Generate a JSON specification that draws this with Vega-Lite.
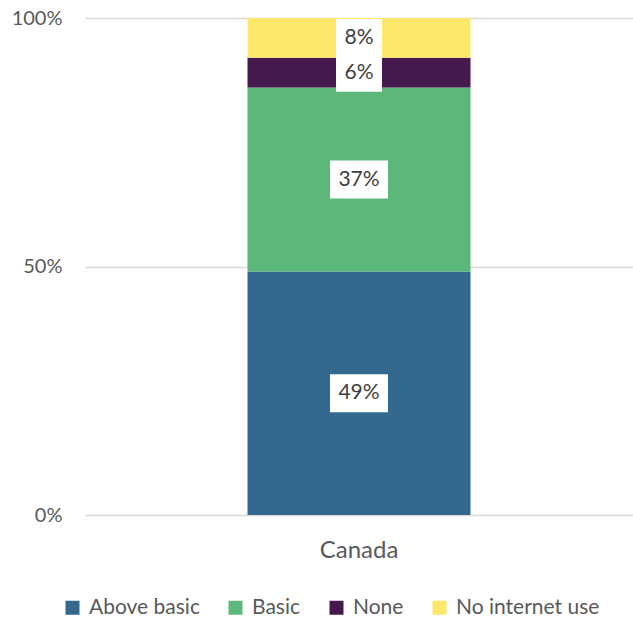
{
  "$schema": "https://vega.github.io/schema/vega-lite/v6.json",
  "width": 548,
  "height": 497,
  "autosize": {"type": "none"},
  "padding": {"left": 85, "top": 18, "right": 0, "bottom": 104},
  "background": "white",
  "config": {
    "view": {"stroke": null},
    "font": "Lato"
  },
  "data": {
    "values": [
      {"country": "Canada", "category": "Above basic", "value": 49, "rank": 1},
      {"country": "Canada", "category": "Basic", "value": 37, "rank": 2},
      {"country": "Canada", "category": "None", "value": 6, "rank": 3},
      {"country": "Canada", "category": "No internet use", "value": 8, "rank": 4}
    ]
  },
  "transform": [
    {"stack": "value", "groupby": ["country"], "sort": [{"field": "rank", "order": "ascending"}], "as": ["y0", "y1"]},
    {"calculate": "(datum.y0 + datum.y1) / 2", "as": "mid"},
    {"calculate": "datum.value + '%'", "as": "label"}
  ],
  "encoding": {
    "x": {
      "field": "country",
      "type": "nominal",
      "axis": {
        "title": null,
        "labelAngle": 0,
        "labelFontSize": 24,
        "labelColor": "#595959",
        "labelPadding": 23,
        "domain": false,
        "ticks": false
      }
    }
  },
  "layer": [
    {
      "mark": {"type": "bar", "width": 223},
      "encoding": {
        "y": {
          "field": "y0",
          "type": "quantitative",
          "scale": {"domain": [0, 100]},
          "axis": {
            "title": null,
            "values": [0, 50, 100],
            "labelExpr": "datum.value + '%'",
            "labelFontSize": 20,
            "labelColor": "#595959",
            "labelPadding": 23,
            "domain": false,
            "ticks": false,
            "gridColor": "#d9d9d9",
            "gridWidth": 1.5
          }
        },
        "y2": {"field": "y1"},
        "color": {
          "field": "category",
          "type": "nominal",
          "sort": ["Above basic", "Basic", "None", "No internet use"],
          "scale": {
            "domain": ["Above basic", "Basic", "None", "No internet use"],
            "range": ["#33698e", "#5cb87a", "#46194f", "#fde76b"]
          },
          "legend": {
            "title": null,
            "orient": "none",
            "direction": "horizontal",
            "legendX": -23,
            "legendY": 579,
            "symbolType": "square",
            "symbolSize": 196,
            "symbolStrokeWidth": 0,
            "symbolOpacity": 1,
            "labelFontSize": 21,
            "labelColor": "#595959",
            "labelOffset": 6,
            "columnPadding": 25
          }
        }
      }
    },
    {
      "mark": {"type": "point", "filled": true, "color": "white", "opacity": 1, "strokeWidth": 0},
      "encoding": {
        "y": {"field": "mid", "type": "quantitative"},
        "shape": {
          "condition": {"test": "datum.value < 10", "value": "M-1,-0.826L1,-0.826L1,0.826L-1,0.826Z"},
          "value": "M-1,-0.655L1,-0.655L1,0.655L-1,0.655Z"
        },
        "size": {
          "condition": {"test": "datum.value < 10", "value": 2116},
          "value": 3364
        }
      }
    },
    {
      "mark": {"type": "text", "fontSize": 21, "color": "#404040", "baseline": "middle", "align": "center"},
      "encoding": {
        "y": {"field": "mid", "type": "quantitative"},
        "text": {"field": "label"}
      }
    }
  ]
}
